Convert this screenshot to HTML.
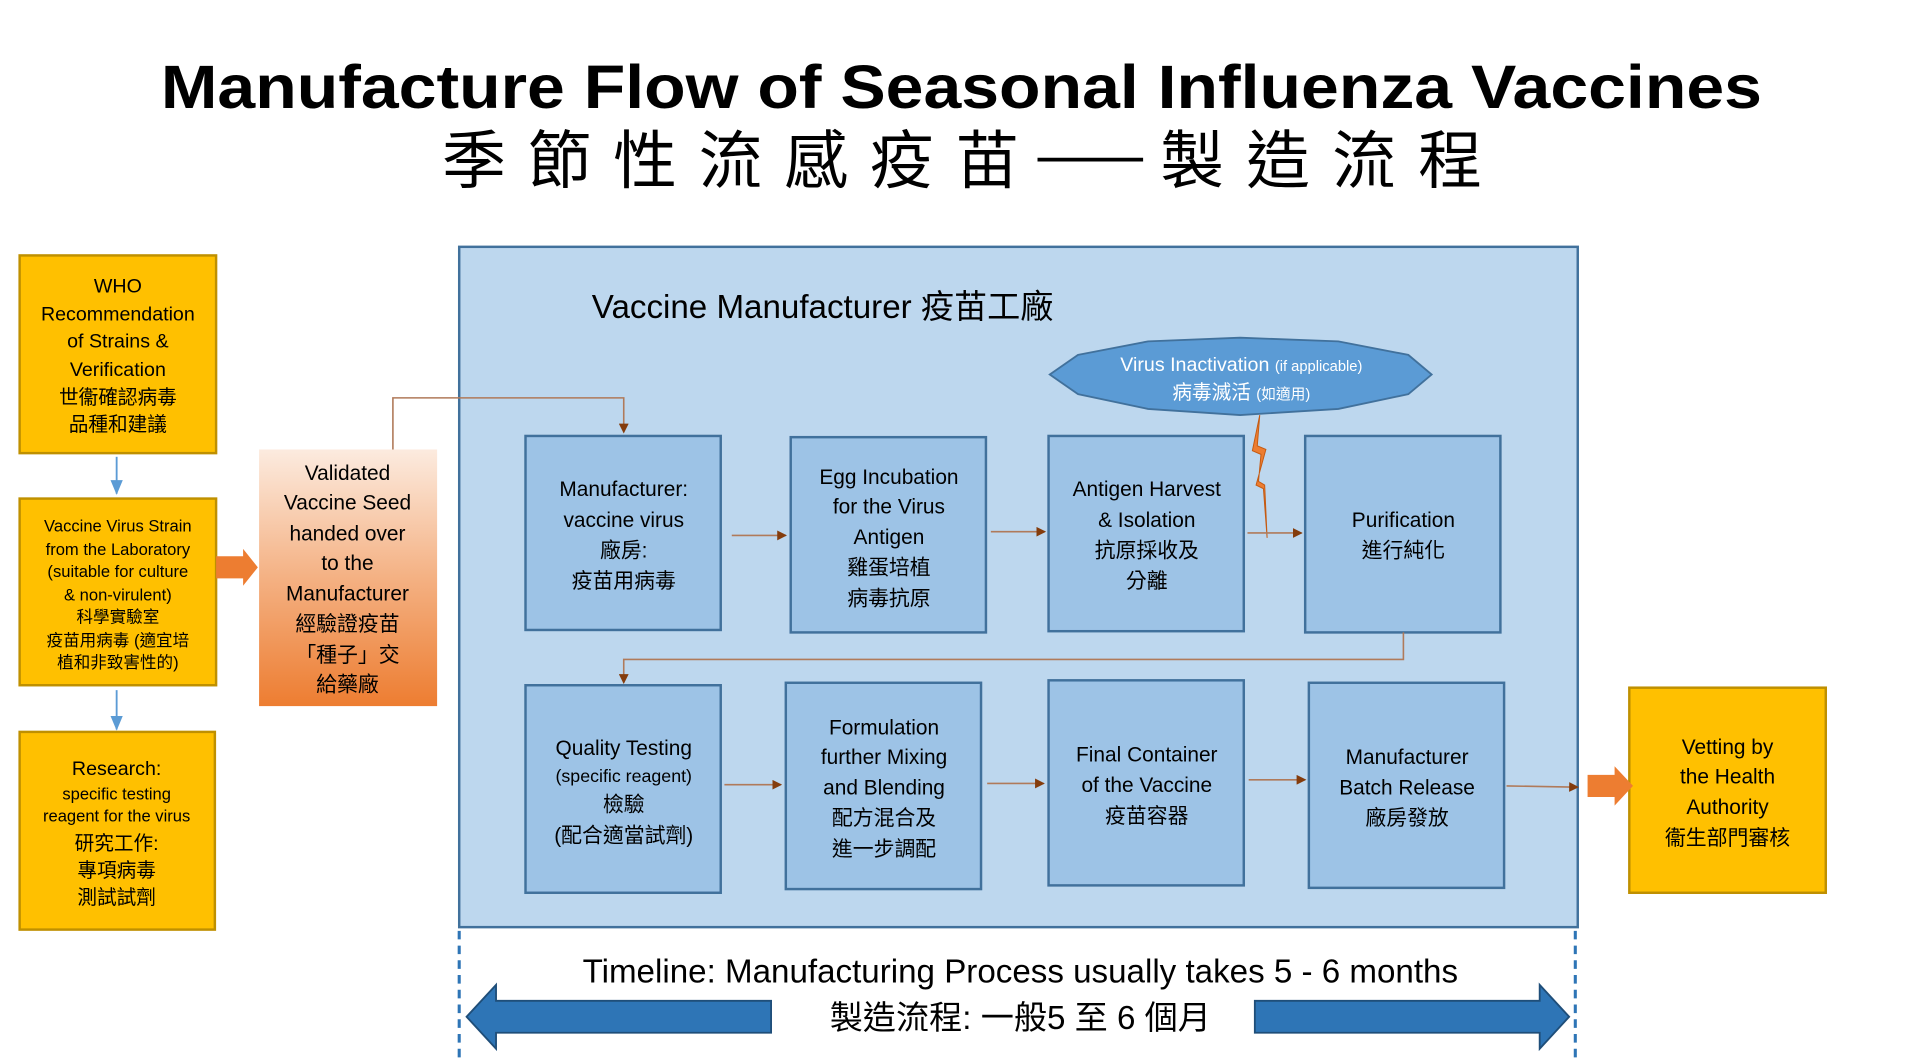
<!DOCTYPE html>
<html><head><meta charset="utf-8"><style>
html,body{margin:0;padding:0;background:#fff;}
svg{display:block;}
text{font-family:"Liberation Sans","Noto Sans CJK TC",sans-serif;}
</style></head><body>
<svg width="1924" height="1061" viewBox="0 0 1567 864" preserveAspectRatio="none" xmlns="http://www.w3.org/2000/svg">
<defs>
<linearGradient id="og" x1="0" y1="0" x2="0" y2="1">
<stop offset="0" stop-color="#FCEBDF"/><stop offset="0.5" stop-color="#F4B183"/><stop offset="1" stop-color="#ED7D31"/>
</linearGradient>
<marker id="br" markerWidth="8" markerHeight="8" refX="7" refY="4" orient="auto" markerUnits="userSpaceOnUse"><path d="M0,0 L8,4 L0,8z" fill="#843C0C"/></marker>
<marker id="bl" markerWidth="12" markerHeight="10" refX="11" refY="5" orient="auto" markerUnits="userSpaceOnUse"><path d="M0,0 L12,5 L0,10z" fill="#5B9BD5"/></marker>
</defs>
<rect width="1567" height="864" fill="#fff"/>
<text x="783" y="88" text-anchor="middle" font-size="50" font-weight="bold" textLength="1304" lengthAdjust="spacingAndGlyphs" fill="#000">Manufacture Flow of Seasonal Influenza Vaccines</text>
<text x="360" y="149" font-size="52" textLength="470" lengthAdjust="spacing" fill="#000">季節性流感疫苗</text>
<line x1="845" y1="130" x2="931" y2="130" stroke="#000" stroke-width="3"/>
<text x="945" y="149" font-size="52" textLength="262" lengthAdjust="spacing" fill="#000">製造流程</text>

<!-- left boxes -->
<g stroke="#BF9000" stroke-width="2" fill="#FFC000">
<rect x="16" y="208" width="160" height="161"/>
<rect x="16" y="406" width="160" height="152"/>
<rect x="16" y="596" width="159" height="161"/>
<rect x="1327" y="560" width="160" height="167"/>
</g>
<g font-size="16" text-anchor="middle" fill="#000">
<text x="96" y="238">WHO</text>
<text x="96" y="261">Recommendation</text>
<text x="96" y="283">of Strains &amp;</text>
<text x="96" y="306">Verification</text>
<text x="96" y="329">世衞確認病毒</text>
<text x="96" y="351">品種和建議</text>
</g>
<g font-size="13.5" text-anchor="middle" fill="#000">
<text x="96" y="433">Vaccine Virus Strain</text>
<text x="96" y="452">from the Laboratory</text>
<text x="96" y="470">(suitable for culture</text>
<text x="96" y="489">&amp; non-virulent)</text>
<text x="96" y="507">科學實驗室</text>
<text x="96" y="526">疫苗用病毒 (適宜培</text>
<text x="96" y="544">植和非致害性的)</text>
</g>
<g text-anchor="middle" fill="#000">
<text x="95" y="631" font-size="16">Research:</text>
<text x="95" y="651" font-size="13.5">specific testing</text>
<text x="95" y="669" font-size="13.5">reagent for the virus</text>
<text x="95" y="692" font-size="16">研究工作:</text>
<text x="95" y="714" font-size="16">專項病毒</text>
<text x="95" y="736" font-size="16">測試試劑</text>
</g>
<line x1="95" y1="372" x2="95" y2="402" stroke="#5B9BD5" stroke-width="1.5" marker-end="url(#bl)"/>
<line x1="95" y1="562" x2="95" y2="594" stroke="#5B9BD5" stroke-width="1.5" marker-end="url(#bl)"/>
<path d="M176,453 L198,453 L198,447 L210,462 L198,477 L198,471 L176,471z" fill="#ED7D31"/>

<rect x="211" y="366" width="145" height="209" fill="url(#og)"/>
<g font-size="17" text-anchor="middle" fill="#000">
<text x="283" y="391">Validated</text>
<text x="283" y="415">Vaccine Seed</text>
<text x="283" y="440">handed over</text>
<text x="283" y="464">to the</text>
<text x="283" y="489">Manufacturer</text>
<text x="283" y="514">經驗證疫苗</text>
<text x="283" y="539">「種子」交</text>
<text x="283" y="563">給藥廠</text>
</g>

<!-- big panel -->
<rect x="374" y="201" width="911" height="554" fill="#BDD7EE" stroke="#41719C" stroke-width="2"/>
<text x="482" y="259" font-size="27" fill="#000">Vaccine Manufacturer 疫苗工廠</text>

<path d="M320,366 L320,324 L508,324 L508,352" fill="none" stroke="#B07A5A" stroke-width="1.3" marker-end="url(#br)"/>

<polygon points="878,289 935,278 1010,275 1090,278 1147,289 1166,305 1147,321 1090,333 1010,338 935,333 878,321 855,305" fill="#5B9BD5" stroke="#41719C" stroke-width="1.5"/>
<text x="1011" y="302" text-anchor="middle" fill="#fff" font-size="16">Virus Inactivation <tspan font-size="12">(if applicable)</tspan></text>
<text x="1011" y="325" text-anchor="middle" fill="#fff" font-size="16">病毒滅活 <tspan font-size="12">(如適用)</tspan></text>
<path d="M1026,338 L1020,367 L1027,370 L1025,392 L1030,395 L1032,438 L1029,398 L1023,395 L1031,366 L1024,363z" fill="#ED7D31" stroke="#C55A11" stroke-width="0.8"/>

<g fill="#9DC3E6" stroke="#41719C" stroke-width="2">
<rect x="428" y="355" width="159" height="158"/>
<rect x="644" y="356" width="159" height="159"/>
<rect x="854" y="355" width="159" height="159"/>
<rect x="1063" y="355" width="159" height="160"/>
<rect x="428" y="558" width="159" height="169"/>
<rect x="640" y="556" width="159" height="168"/>
<rect x="854" y="554" width="159" height="167"/>
<rect x="1066" y="556" width="159" height="167"/>
</g>
<g font-size="17" text-anchor="middle" fill="#000">
<text x="508" y="404">Manufacturer:</text>
<text x="508" y="429">vaccine virus</text>
<text x="508" y="454">廠房:</text>
<text x="508" y="479">疫苗用病毒</text>
<text x="724" y="394">Egg Incubation</text>
<text x="724" y="418">for the Virus</text>
<text x="724" y="443">Antigen</text>
<text x="724" y="468">雞蛋培植</text>
<text x="724" y="493">病毒抗原</text>
<text x="934" y="404">Antigen Harvest</text>
<text x="934" y="429">&amp; Isolation</text>
<text x="934" y="454">抗原採收及</text>
<text x="934" y="479">分離</text>
<text x="1143" y="429">Purification</text>
<text x="1143" y="454">進行純化</text>
<text x="508" y="615">Quality Testing</text>
<text x="508" y="637" font-size="14.5">(specific reagent)</text>
<text x="508" y="661">檢驗</text>
<text x="508" y="686">(配合適當試劑)</text>
<text x="720" y="598">Formulation</text>
<text x="720" y="622">further Mixing</text>
<text x="720" y="647">and Blending</text>
<text x="720" y="672">配方混合及</text>
<text x="720" y="697">進一步調配</text>
<text x="934" y="620">Final Container</text>
<text x="934" y="645">of the Vaccine</text>
<text x="934" y="670">疫苗容器</text>
<text x="1146" y="622">Manufacturer</text>
<text x="1146" y="647">Batch Release</text>
<text x="1146" y="672">廠房發放</text>
<text x="1407" y="614">Vetting by</text>
<text x="1407" y="638">the Health</text>
<text x="1407" y="663">Authority</text>
<text x="1407" y="688">衞生部門審核</text>
</g>

<g stroke="#B07A5A" stroke-width="1.3" fill="none" marker-end="url(#br)">
<line x1="596" y1="436" x2="640" y2="436"/>
<line x1="807" y1="433" x2="851" y2="433"/>
<line x1="1016" y1="434" x2="1060" y2="434"/>
<path d="M1143,515 L1143,537 L508,537 L508,556"/>
<line x1="590" y1="639" x2="636" y2="639"/>
<line x1="804" y1="638" x2="850" y2="638"/>
<line x1="1017" y1="635" x2="1063" y2="635"/>
<line x1="1227" y1="640" x2="1285" y2="641"/>
</g>
<path d="M1293,631 L1315,631 L1315,624 L1330,640 L1315,656 L1315,649 L1293,649z" fill="#ED7D31"/>

<!-- timeline -->
<line x1="374" y1="758" x2="374" y2="864" stroke="#2E75B6" stroke-width="2.5" stroke-dasharray="7,5"/>
<line x1="1283" y1="758" x2="1283" y2="864" stroke="#2E75B6" stroke-width="2.5" stroke-dasharray="7,5"/>
<text x="831" y="800" text-anchor="middle" font-size="27" fill="#000">Timeline: Manufacturing Process usually takes 5 - 6 months</text>
<text x="831" y="838" text-anchor="middle" font-size="27" fill="#000">製造流程: 一般5 至 6 個月</text>
<path d="M628,815 L404,815 L404,802 L380,828 L404,854 L404,841 L628,841z" fill="#2E75B6" stroke="#1F4E79" stroke-width="1.5"/>
<path d="M1022,815 L1254,815 L1254,802 L1278,828 L1254,854 L1254,841 L1022,841z" fill="#2E75B6" stroke="#1F4E79" stroke-width="1.5"/>
</svg>
</body></html>
